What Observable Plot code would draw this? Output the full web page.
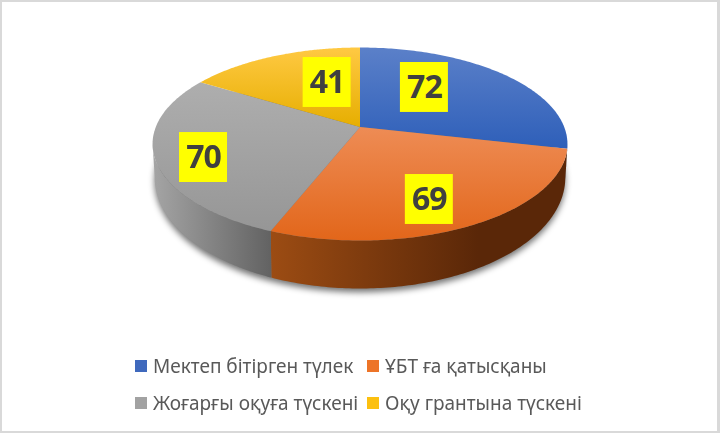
<!DOCTYPE html>
<html>
<head>
<meta charset="utf-8">
<script src="https://cdn.jsdelivr.net/npm/d3@7"></script>
<script src="https://cdn.jsdelivr.net/npm/@observablehq/plot@0.6"></script>
<style>
html,body{margin:0;padding:0;background:#fff;width:720px;height:433px;overflow:hidden}
#frame{position:fixed;left:0;top:0;width:720px;height:433px;box-sizing:border-box;border:2px solid #d9d9d9;border-right-width:3px;pointer-events:none}
#chart svg{display:block}
#chart{filter:blur(0.35px)}
#legend{position:absolute;left:135px;top:347px;display:grid;grid-template-columns:232px auto;grid-auto-rows:37.5px;font-family:"Noto Sans",sans-serif;font-size:19px;color:#595959;filter:blur(0.35px)}
#legend div{display:flex;align-items:center;white-space:nowrap}
#legend i{display:inline-block;width:12px;height:12px;margin-right:6px}
</style>
</head>
<body>
<div id="chart"></div>
<div id="legend"></div>
<div id="frame"></div>
<script>
const categories = ["Мектеп бітірген түлек", "ҰБТ ға қатысқаны", "Жоғарғы оқуға түскені", "Оқу грантына түскені"];
const values = [72, 69, 70, 41];
const labelOffsetX = [-0.389, -0.214, 0.238, 0.263];
const labelOffsetY = [0.139, -0.272, -0.011, 0.28];
const faceTop = ["#5b80c9", "#ee8c55", "#aeaeae", "#ffc943"];
const faceBottom = ["#2e5fb9", "#e2661a", "#969696", "#e6ae00"];
const wallLeft = ["#1f3f7d", "#9c4c13", "#a5a5a5", "#9a7400"];
const wallRight = ["#1f3f7d", "#5a2708", "#626262", "#7f6000"];
const legendSwatch = ["#3f69bd", "#ed7428", "#a2a2a2", "#fcc010"];

const K = 0.1762, KB = 0.18, AB = 0.989, BB = 1.149, DROP = 0.326;
const total = d3.sum(values);
const cum = d3.cumsum(values);
const ang = i => [(i ? cum[i - 1] : 0) / total * 2 * Math.PI, cum[i] / total * 2 * Math.PI];
const top_ = t => { const u = Math.sin(t), v = -Math.cos(t), w = 1 - K * v; return [u / w, v / w]; };
const bot_ = t => { const u = Math.sin(t), v = -Math.cos(t), w = 1 - KB * v; return [AB * u / w, DROP + BB * v / w]; };
const arc = (f, a, b) => d3.range(0, 121).map(i => f(a + (b - a) * i / 120));

const vis0 = 100 * Math.PI / 180, vis1 = 260 * Math.PI / 180;
const slices = values.map((_, i) => ang(i));
const px = d => d[0], py = d => d[1];

const defs = () => {
  const s = d3.create("svg:defs");
  values.forEach((_, i) => {
    const f = s.append("linearGradient").attr("id", "f" + i).attr("x1", 0).attr("y1", 0).attr("x2", 0).attr("y2", 1);
    f.append("stop").attr("offset", 0).attr("stop-color", faceTop[i]);
    f.append("stop").attr("offset", 1).attr("stop-color", faceBottom[i]);
    const w = s.append("linearGradient").attr("id", "w" + i).attr("x1", 0).attr("y1", 0).attr("x2", 1).attr("y2", 0);
    w.append("stop").attr("offset", 0).attr("stop-color", wallLeft[i]);
    w.append("stop").attr("offset", i === 1 ? 0.7 : 1).attr("stop-color", wallRight[i]);
  });
  return s.node();
};

const marks = [defs];
// soft shadow under the disc
marks.push(Plot.line(arc(bot_, 0, 2 * Math.PI).map(([x, y]) => [x, y + 0.04]), {x: px, y: py, fill: "#000", fillOpacity: 0.55, stroke: "none", imageFilter: "blur(3px)"}));
// walls
slices.forEach(([a, b], i) => {
  const s = Math.max(a, vis0), e = Math.min(b, vis1);
  if (e <= s) return;
  marks.push(Plot.line([...arc(top_, s, e), ...arc(bot_, s, e).reverse()], {x: px, y: py, fill: `url(#w${i})`, stroke: "none"}));
});
// faces
slices.forEach(([a, b], i) => {
  marks.push(Plot.line([[0, 0], ...arc(top_, a, b)], {x: px, y: py, fill: `url(#f${i})`, stroke: "none"}));
});
// labels
const labels = values.map((v, i) => {
  const [x, y] = top_((slices[i][0] + slices[i][1]) / 2);
  return {v, x: x + labelOffsetX[i], y: y + labelOffsetY[i]};
});
marks.push(Plot.rect(labels, {x1: d => d.x - 0.1175, x2: d => d.x + 0.1175, y1: d => d.y - 0.267, y2: d => d.y + 0.267, fill: "#ffff00", inset: 0}));
marks.push(Plot.text(labels, {x: "x", y: "y", text: d => String(d.v), fill: "#404040", fontSize: 32, fontWeight: 700, fontFamily: "'Open Sans',sans-serif", lineAnchor: "middle"}));

document.getElementById("chart").append(Plot.plot({
  width: 720, height: 340, margin: 0,
  style: {background: "transparent", letterSpacing: "-1px"},
  x: {domain: [-1, 1], range: [155.3, 563.7], axis: null},
  y: {domain: [-1, 1], range: [33, 220], axis: null},
  marks
}));

const lg = d3.select("#legend");
categories.forEach((c, i) => {
  const r = lg.append("div");
  r.append("i").style("background", legendSwatch[i]);
  r.append("span").text(c);
});
</script>
</body>
</html>
